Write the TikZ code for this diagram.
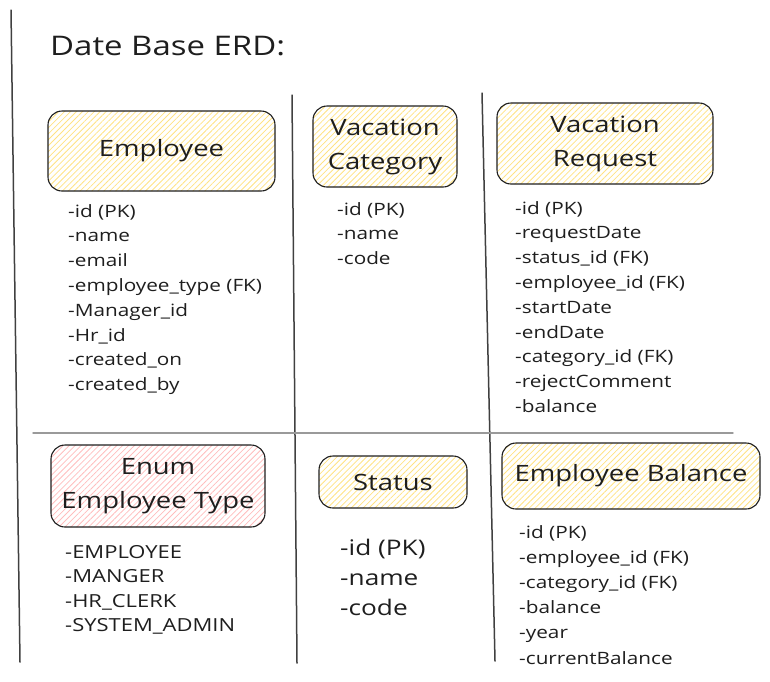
\documentclass[tikz,border=0pt]{standalone}
\usepackage{fontspec}
\setmainfont[FakeStretch=1.22]{Open Sans}
\usetikzlibrary{patterns.meta}
\definecolor{ink}{HTML}{1E1E1E}
\definecolor{hatchyellow}{HTML}{FFE283}
\definecolor{hatchpink}{HTML}{FFBDBD}
\definecolor{rulegray}{HTML}{9A9A9A}
\begin{document}
\begin{tikzpicture}[x=1pt,y=-1pt,
  entity/.style={draw=ink, line width=1.1pt, rounded corners=14pt, inner sep=0pt,
    align=center, text=ink, font=\fontsize{22.5}{34}\selectfont},
  yellowbox/.style={entity, pattern={Lines[angle=45,distance=4.2pt,line width=0.8pt]},
    pattern color=hatchyellow},
  pinkbox/.style={entity, pattern={Lines[angle=45,distance=4.2pt,line width=0.8pt]},
    pattern color=hatchpink},
  attrs/.style={anchor=north west, inner sep=0pt, align=left, text=ink,
    font=\fontsize{17}{24.8}\selectfont},
  divider/.style={line width=1.5pt, draw=ink!85, line cap=round},
  hrule/.style={line width=1.4pt, draw=rulegray, line cap=round}]
\useasboundingbox (0,0) rectangle (770,681);

% column and row separators
\coordinate (lt) at (11,10);   \coordinate (lb) at (20,662);
\coordinate (mt) at (292,95);  \coordinate (mb) at (297,663);
\coordinate (rt) at (482,93);  \coordinate (rb) at (495,661);
\coordinate (hl) at (33,433);  \coordinate (hr) at (733,433);
\draw[divider] (lt) -- (lb);
\draw[divider] (mt) -- (mb);
\draw[divider] (rt) -- (rb);
\draw[hrule] (hl) -- (hr);

% heading
\node[anchor=base west, inner sep=0pt, text=ink, font=\fontsize{27}{30}\selectfont]
  (title) at (50,55) {Date Base ERD:};

% entities
\node[yellowbox, minimum width=227pt, minimum height=80pt] (employee) at (161.5,151) {Employee};
\node[yellowbox, minimum width=144pt, minimum height=81pt] (category) at (385,146.5) {Vacation\\Category};
\node[yellowbox, minimum width=216pt, minimum height=81pt] (request) at (605,143.5) {Vacation\\Request};
\node[pinkbox, minimum width=214pt, minimum height=82pt] (emptype) at (158,486) {Enum\\Employee Type};
\node[yellowbox, minimum width=148pt, minimum height=52pt] (status) at (393,482) {Status};
\node[yellowbox, minimum width=258pt, minimum height=66pt] (balance) at (631,476) {Employee Balance};

% attribute lists
\node[attrs] (employeeattrs) at (68,204) {-id (PK)\\-name\\-email\\-employee\_type (FK)\\-Manager\_id\\-Hr\_id\\-created\_on\\-created\_by};
\node[attrs] (categoryattrs) at (337,202) {-id (PK)\\-name\\-code};
\node[attrs] (requestattrs) at (515,201) {-id (PK)\\-requestDate\\-status\_id (FK)\\-employee\_id (FK)\\-startDate\\-endDate\\-category\_id (FK)\\-rejectComment\\-balance};
\node[attrs, font=\fontsize{18}{24.5}\selectfont] (emptypeattrs) at (65,545) {-EMPLOYEE\\-MANGER\\-HR\_CLERK\\-SYSTEM\_ADMIN};
\node[attrs, font=\fontsize{21.5}{30}\selectfont] (statusattrs) at (340,539) {-id (PK)\\-name\\-code};
\node[attrs, font=\fontsize{17}{25.2}\selectfont] (balanceattrs) at (519,525) {-id (PK)\\-employee\_id (FK)\\-category\_id (FK)\\-balance\\-year\\-currentBalance};
\end{tikzpicture}
\end{document}
